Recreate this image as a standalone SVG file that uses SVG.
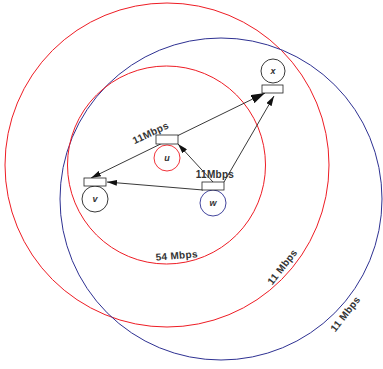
<svg xmlns="http://www.w3.org/2000/svg" width="383" height="369" viewBox="0 0 383 369">
<style>
.rng{fill:none;stroke-width:1}
.red{stroke:#ee1c24}
.blue{stroke:#2e3192}
.box{fill:#fff;stroke:#222;stroke-width:0.8}
.nc{fill:#fff;stroke-width:0.9}
.nl{font-family:"Liberation Sans",Arial,sans-serif;font-size:9px;font-weight:bold;font-style:italic;fill:#333;text-anchor:middle}
.lb{font-family:"Liberation Sans",Arial,sans-serif;font-size:10px;font-weight:bold;fill:#333;text-anchor:middle;letter-spacing:0.3px}
.ln{fill:none;stroke:#222;stroke-width:0.9}
</style>
<defs>
<marker id="ah" markerWidth="10" markerHeight="6" refX="10" refY="3" orient="auto" markerUnits="userSpaceOnUse">
<path d="M0,0 L10,3 L0,6 z" fill="#111"/>
</marker>
<marker id="ahs" markerWidth="10" markerHeight="6" refX="10" refY="3" orient="auto-start-reverse" markerUnits="userSpaceOnUse">
<path d="M0,0 L10,3 L0,6 z" fill="#111"/>
</marker>
<marker id="ahb" markerWidth="14" markerHeight="9" refX="14" refY="4.5" orient="auto" markerUnits="userSpaceOnUse">
<path d="M0,0 L14,4.5 L0,9 z" fill="#111"/>
</marker>
</defs>
<g id="ranges">
<circle class="rng red" cx="167" cy="165" r="162"/>
<circle class="rng blue" cx="221" cy="199" r="161"/>
<circle class="rng red" cx="166.5" cy="165" r="99"/>
<text class="lb" transform="translate(177,259) rotate(-5)">54 Mbps</text>
<text class="lb" transform="translate(285,269) rotate(-52)">11 Mbps</text>
<text class="lb" transform="translate(348,316) rotate(-52)">11 Mbps</text>
</g>
<g id="connectors">
<line class="ln" x1="91" y1="178" x2="265" y2="93" marker-start="url(#ahs)" marker-end="url(#ahb)"/>
<line class="ln" x1="213" y1="182" x2="178" y2="144" marker-end="url(#ah)"/>
<line class="ln" x1="224" y1="182" x2="274" y2="96" marker-end="url(#ah)"/>
<line class="ln" x1="203" y1="190" x2="107" y2="182" marker-end="url(#ah)"/>
<text class="lb" transform="translate(152,136) rotate(-25)">11Mbps</text>
<text class="lb" x="215" y="178">11Mbps</text>
</g>
<g id="node-x">
<circle class="nc" cx="273" cy="71" r="12" stroke="#222"/>
<text class="nl" x="273" y="74">x</text>
<rect class="box" x="262" y="85" width="21" height="8"/>
</g>
<g id="node-u">
<circle class="nc" cx="167" cy="158" r="13" stroke="#ee1c24"/>
<text class="nl" x="167" y="161">u</text>
<rect class="box" x="156" y="135" width="22" height="9"/>
</g>
<g id="node-v">
<circle class="nc" cx="95" cy="199" r="13" stroke="#222"/>
<text class="nl" x="95" y="202">v</text>
<rect class="box" x="84" y="178" width="22" height="8"/>
</g>
<g id="node-w">
<circle class="nc" cx="213" cy="203" r="13" stroke="#2e3192"/>
<text class="nl" x="213" y="206">w</text>
<rect class="box" x="202" y="182" width="22" height="8"/>
</g>
</svg>
